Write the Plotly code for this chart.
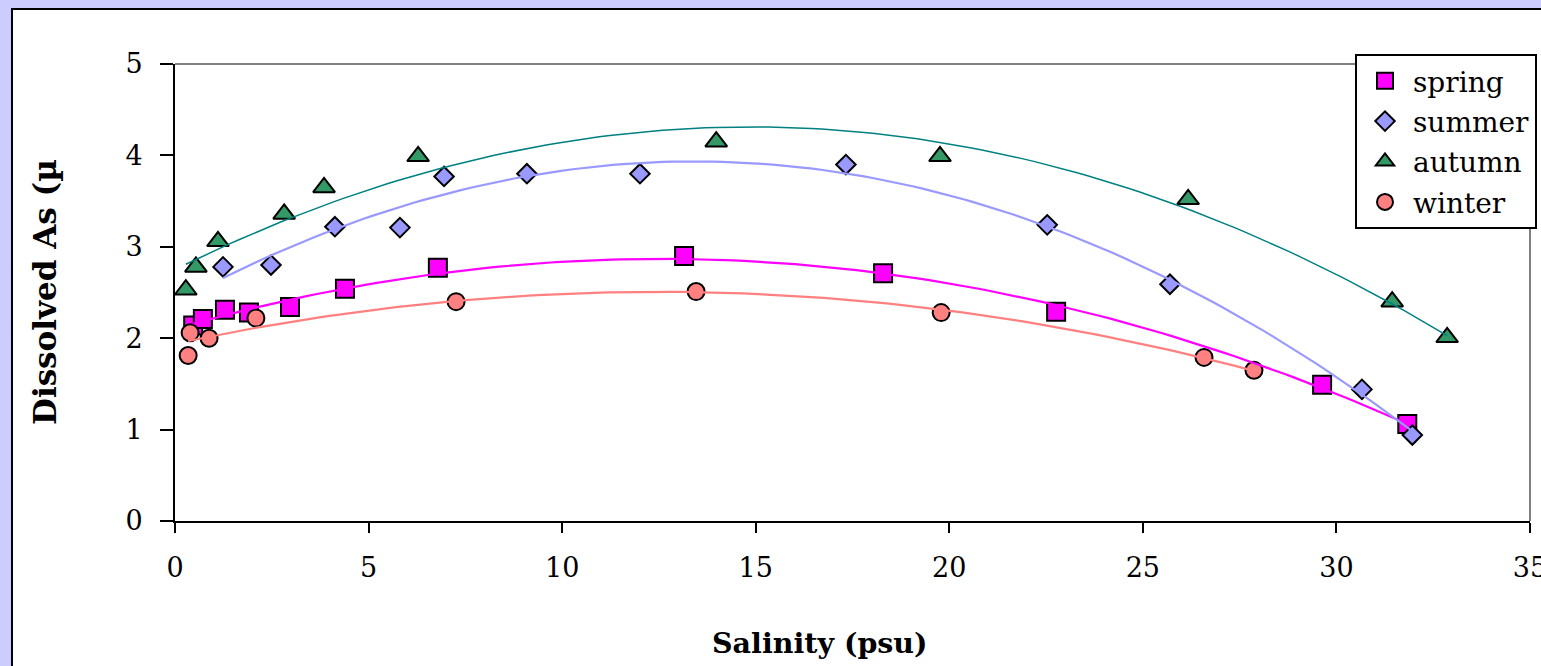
import numpy as np
import plotly.graph_objects as go

# Salinity (psu) and dissolved arsenic for each season
spring_sal = [0.47, 0.72, 1.29, 1.91, 2.97, 4.39, 6.79, 13.15, 18.29, 22.76, 29.63, 31.83]
spring_as = [2.14, 2.21, 2.31, 2.28, 2.34, 2.54, 2.77, 2.90, 2.71, 2.29, 1.49, 1.06]

summer_sal = [1.24, 2.48, 4.13, 5.81, 6.95, 9.09, 12.01, 17.33, 22.53, 25.70, 30.66, 31.96]
summer_as = [2.78, 2.80, 3.22, 3.21, 3.77, 3.80, 3.80, 3.90, 3.24, 2.59, 1.44, 0.94]

autumn_sal = [0.28, 0.54, 1.11, 2.82, 3.85, 6.28, 13.98, 19.76, 26.17, 31.44, 32.86]
autumn_as = [2.53, 2.78, 3.06, 3.36, 3.65, 3.99, 4.15, 3.99, 3.52, 2.40, 2.01]

winter_sal = [0.34, 0.39, 0.88, 2.09, 7.26, 13.46, 19.79, 26.58, 27.87]
winter_as = [1.81, 2.06, 2.00, 2.22, 2.40, 2.51, 2.28, 1.79, 1.65]

x_ticks = [0, 5, 10, 15, 20, 25, 30, 35]
y_ticks = [0, 1, 2, 3, 4, 5]

seasons = [
    ("spring", spring_sal, spring_as, "square", 18, "#FF00FF", "#FF00FF", 2.2),
    ("summer", summer_sal, summer_as, "diamond", 15, "#9999FF", "#9999FF", 2.2),
    ("autumn", autumn_sal, autumn_as, "triangle-up", 19, "#339966", "#008080", 1.5),
    ("winter", winter_sal, winter_as, "circle", 17, "#FF8080", "#FF8080", 2.2),
]

SERIF = "DejaVu Serif"
W, H = 1541, 666
L, R, T, B = 175, 11, 64, 145
PW, PH = W - L - R, H - T - B


def px_x(p):
    return (p - L) / PW


def px_y(p):
    return (H - B - p) / PH


fig = go.Figure()

for name, xs, ys, sym, size, fill, _, _ in seasons:
    fig.add_trace(go.Scatter(
        x=xs, y=ys, mode="markers", name=name, legendgroup=name,
        marker=dict(symbol=sym, size=size, color=fill,
                    line=dict(color="black", width=2)),
    ))

# second-order polynomial trend lines over each season's salinity range
for name, xs, ys, _, _, _, lc, lw in seasons:
    coef = np.polyfit(xs, ys, 2)
    xf = np.linspace(min(xs), max(xs), 120)
    fig.add_trace(go.Scatter(
        x=xf, y=np.polyval(coef, xf), mode="lines", showlegend=False,
        line=dict(color=lc, width=lw), hoverinfo="skip",
    ))

shapes = [
    # white chart panel with black frame on lavender surround
    dict(type="rect", xref="paper", yref="paper", layer="below",
         x0=px_x(12), x1=px_x(1560), y0=px_y(690), y1=px_y(9),
         fillcolor="white", line=dict(color="black", width=2)),
    # grey top and right edges of the plot area
    dict(type="line", xref="paper", yref="paper", x0=0, x1=1, y0=1, y1=1,
         line=dict(color="#808080", width=2)),
    dict(type="line", xref="paper", yref="paper", x0=1, x1=1, y0=0, y1=1,
         line=dict(color="#808080", width=2)),
]

annotations = [
    dict(text="<b>Salinity (psu)</b>", xref="paper", yref="paper",
         x=px_x(820), y=px_y(643), showarrow=False,
         font=dict(family=SERIF, size=28.5, color="black"),
         xanchor="center", yanchor="middle"),
    dict(text="<b>Dissolved As (µ</b>", xref="paper", yref="paper",
         x=px_x(45), y=px_y(292), showarrow=False, textangle=-90,
         font=dict(family=SERIF, size=31, color="black"),
         xanchor="center", yanchor="middle"),
]

fig.update_layout(
    width=W, height=H,
    margin=dict(l=L, r=R, t=T, b=B, autoexpand=False),
    paper_bgcolor="#CCCCFF", plot_bgcolor="white",
    font=dict(family=SERIF, size=27, color="black"),
    shapes=shapes, annotations=annotations,
    showlegend=True,
    legend=dict(
        x=px_x(1355), y=px_y(54), xanchor="left", yanchor="top",
        bgcolor="white", bordercolor="black", borderwidth=2,
        font=dict(family=SERIF, size=28, color="black"),
        itemwidth=46, traceorder="grouped", tracegroupgap=1,
    ),
)

fig.update_xaxes(
    range=[0, 35], tickvals=x_ticks, showgrid=False, zeroline=False,
    showline=True, linecolor="black", linewidth=2,
    ticks="outside", ticklen=10, tickwidth=1.5, tickcolor="black",
    ticklabelstandoff=12, ticklabeloverflow="allow",
    tickfont=dict(family=SERIF, size=27),
)
fig.update_yaxes(
    range=[0, 5], tickvals=y_ticks, showgrid=False, zeroline=False,
    showline=True, linecolor="black", linewidth=2,
    ticks="outside", ticklen=13, tickwidth=1.5, tickcolor="black",
    ticklabelstandoff=12, tickfont=dict(family=SERIF, size=27),
)

fig.write_html("out.html")
